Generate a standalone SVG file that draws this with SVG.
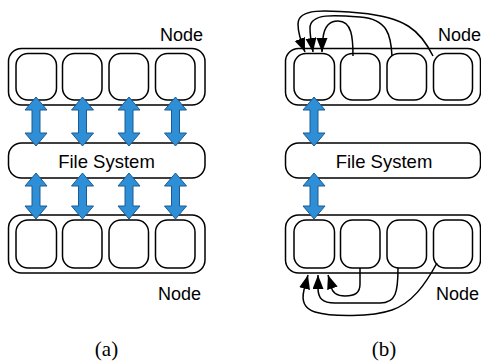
<svg xmlns="http://www.w3.org/2000/svg" width="481" height="362" viewBox="0 0 481 362">
<style>
.box{fill:#fff;stroke:#000;stroke-width:1.5}
.arr{fill:#2F8FD6;stroke:#1B5A92;stroke-width:1}
.conn{fill:none;stroke:#000;stroke-width:1.5;marker-end:url(#ah)}
.lbl{font-family:"Liberation Sans",Arial,sans-serif;font-size:18px;fill:#000}
.cap{font-family:"Liberation Serif","Times New Roman",serif;font-size:21px;fill:#000;text-anchor:middle}
</style>
<defs>
<marker id="ah" markerUnits="userSpaceOnUse" markerWidth="16" markerHeight="13" refX="14" refY="5.5" orient="auto"><path d="M0,0 L14,5.5 L0,11 Z" fill="#000"/></marker>
<path id="arrT" class="arr" d="M0,0 L11,13 L4,13 L4,36 L11,36 L0,49 L-11,36 L-4,36 L-4,13 L-11,13 Z"/>
<path id="arrB" class="arr" d="M0,0 L11,13 L4,13 L4,33 L11,33 L0,46 L-11,33 L-4,33 L-4,13 L-11,13 Z"/>
</defs>
<rect width="481" height="362" fill="#fff"/>

<!-- Panel (a) -->
<g id="a-node-top">
<rect class="box" x="8.5" y="48.5" width="196.5" height="56.5" rx="13"/>
<rect class="box" x="16" y="53.5" width="40.5" height="46.5" rx="12"/>
<rect class="box" x="62.5" y="53.5" width="39.5" height="46.5" rx="12"/>
<rect class="box" x="109" y="53.5" width="39.5" height="46.5" rx="12"/>
<rect class="box" x="155.5" y="53.5" width="39.5" height="46.5" rx="12"/>
<text class="lbl" x="160" y="41">Node</text>
</g>
<g id="a-fs">
<rect class="box" x="8.5" y="143" width="196.5" height="35" rx="13"/>
<text class="lbl" x="106.5" y="168" text-anchor="middle" style="font-size:18.5px">File System</text>
</g>
<g id="a-node-bottom">
<rect class="box" x="8.5" y="215" width="196.5" height="58" rx="13"/>
<rect class="box" x="16" y="220" width="40.5" height="48" rx="12"/>
<rect class="box" x="62.5" y="220" width="39.5" height="48" rx="12"/>
<rect class="box" x="109" y="220" width="39.5" height="48" rx="12"/>
<rect class="box" x="155.5" y="220" width="39.5" height="48" rx="12"/>
<text class="lbl" x="158" y="300">Node</text>
</g>
<g id="a-arrows">
<use href="#arrT" transform="translate(36,97)"/>
<use href="#arrT" transform="translate(82.5,97)"/>
<use href="#arrT" transform="translate(129,97)"/>
<use href="#arrT" transform="translate(175.5,97)"/>
<use href="#arrB" transform="translate(36,173)"/>
<use href="#arrB" transform="translate(82.5,173)"/>
<use href="#arrB" transform="translate(129,173)"/>
<use href="#arrB" transform="translate(175.5,173)"/>
</g>
<text id="cap-a" class="cap" x="106.5" y="356">(a)</text>

<!-- Panel (b) -->
<g id="b-node-top">
<rect class="box" x="285.5" y="48.5" width="195" height="56.5" rx="13"/>
<rect class="box" x="294" y="53.5" width="40.5" height="46.5" rx="12"/>
<rect class="box" x="340.5" y="53.5" width="39.5" height="46.5" rx="12"/>
<rect class="box" x="387" y="53.5" width="39.5" height="46.5" rx="12"/>
<rect class="box" x="433.5" y="53.5" width="39" height="46.5" rx="12"/>
<text class="lbl" x="438" y="41">Node</text>
</g>
<g id="b-fs">
<rect class="box" x="285.5" y="143" width="195" height="35" rx="13"/>
<text class="lbl" x="384" y="168" text-anchor="middle" style="font-size:18.5px">File System</text>
</g>
<g id="b-node-bottom">
<rect class="box" x="285.5" y="215" width="195" height="58" rx="13"/>
<rect class="box" x="294" y="220" width="40.5" height="48" rx="12"/>
<rect class="box" x="340.5" y="220" width="39.5" height="48" rx="12"/>
<rect class="box" x="387" y="220" width="39.5" height="48" rx="12"/>
<rect class="box" x="433.5" y="220" width="39" height="48" rx="12"/>
<text class="lbl" x="436" y="300">Node</text>
</g>
<g id="b-arrows">
<use href="#arrT" transform="translate(314,97)"/>
<use href="#arrB" transform="translate(314,173)"/>
</g>
<g id="connectors">
<path class="conn" d="M433,56 C420,30 405,17 360,13 C325,10 298,8 298,24 C298,34 301,42 305,52"/>
<path class="conn" d="M392,56 C391,36 388,19 360,17 C335,15 310,13 310,28 C310,38 312,45 313,52"/>
<path class="conn" d="M353,56 C353,38 352,21 338,21 C327,21 324,29 323,38 C322,44 322,48 322,52"/>
<path class="conn" d="M360,268 L360,284 C360,293 355,296 345,296 C336,296 332,292 331,286 C330,282 329,278 328,275"/>
<path class="conn" d="M398,268 C398,292 396,303 380,303 L335,303 C322,303 318,298 318,288 L318,275"/>
<path class="conn" d="M437,263 C425,285 412,303 392,310 C372,317 332,317 315,312 C302,308 302,298 304,290 C305,284 307,279 308,275"/>
</g>
<text id="cap-b" class="cap" x="384" y="356">(b)</text>
</svg>
